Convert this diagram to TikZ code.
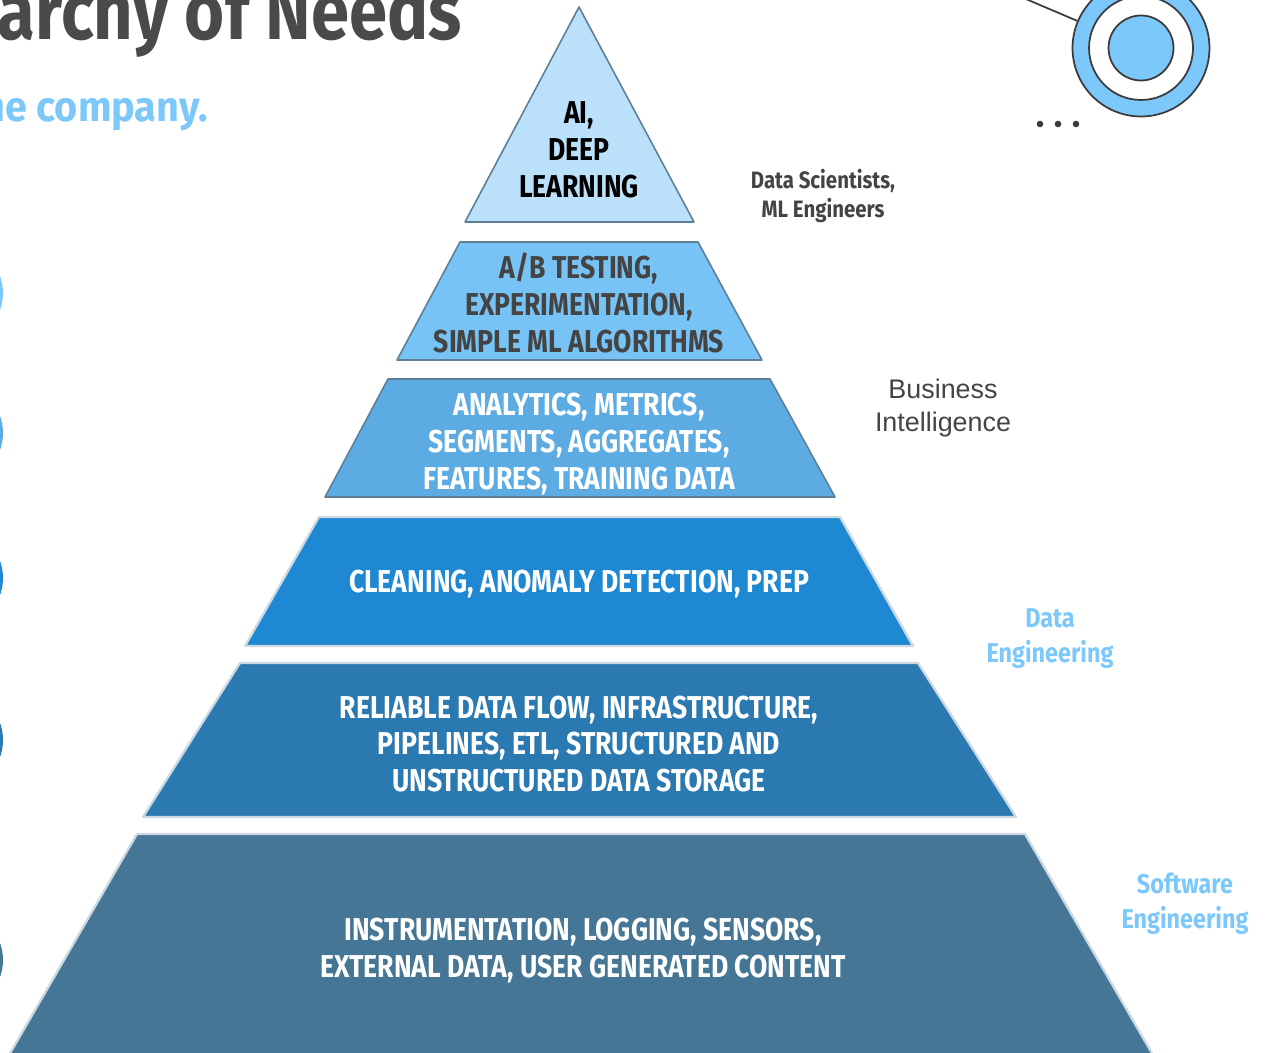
\documentclass[tikz,border=0pt]{standalone}
\usepackage{fontspec}
\setmainfont{Fira Sans}
\newfontfamily\condfont[FakeStretch=0.84]{Fira Sans}
\newfontfamily\rolefont[FakeStretch=0.86]{Fira Sans}
\newfontfamily\headfont[FakeStretch=0.85]{Fira Sans}
\newfontfamily\subfont[FakeStretch=0.94]{Fira Sans}
\newfontfamily\bifont{Liberation Sans}
\usetikzlibrary{positioning}

\definecolor{lvlone}{HTML}{BBE1FA}
\definecolor{lvltwo}{HTML}{78C3F6}
\definecolor{lvlthree}{HTML}{5CACE3}
\definecolor{lvlfour}{HTML}{1E88D3}
\definecolor{lvlfive}{HTML}{2A79B0}
\definecolor{lvlsix}{HTML}{467695}
\definecolor{edgedark}{HTML}{5E7F96}
\definecolor{edgelight}{HTML}{CCD9E2}
\definecolor{inkgray}{HTML}{444444}
\definecolor{titlegray}{HTML}{4A4A4A}
\definecolor{skyblue}{HTML}{7CC8FA}
\definecolor{ringline}{HTML}{3C3C3C}

\begin{document}
\begin{tikzpicture}[x=0.02cm,y=-0.02cm,
    layer/.style={draw=edgedark,line width=0.9pt,line join=round},
    lowlayer/.style={draw=edgelight,line width=1.3pt,line join=round},
    pyrtext/.style={align=center,inner sep=0pt,
        font=\condfont\bfseries\fontsize{18}{21}\selectfont},
    role/.style={align=center,inner sep=0pt,
        font=\rolefont\bfseries\fontsize{15.5}{20}\selectfont,text=skyblue},
    sidedot/.style={circle,fill=#1,minimum size=2cm,inner sep=0pt},
    ring/.style={circle,draw=ringline,line width=1pt,inner sep=0pt}]
    \clip (0,0) rectangle (1267,1053);

    % heading, cut off by the page edge
    \node[anchor=base east,inner sep=0pt,text=titlegray,
        font=\headfont\bfseries\fontsize{46}{46}\selectfont] (title) at (462,40) {Hierarchy of Needs};
    \node[anchor=base east,inner sep=0pt,text=skyblue,
        font=\subfont\bfseries\fontsize{24}{24}\selectfont] (subtitle) at (208,122) {the company.};

    % markers on the left edge
    \node[sidedot=skyblue] (dotb) at (-47,293) {};
    \node[sidedot=lvlthree] (dotc) at (-47,433) {};
    \node[sidedot=lvlfour] (dotd) at (-47,578) {};
    \node[sidedot=lvlfive] (dote) at (-47,740) {};
    \node[sidedot=lvlsix] (dotf) at (-47,960) {};

    % pyramid
    \filldraw[layer,fill=lvlone] (579,7) -- (694,222) -- (465,222) -- cycle;
    \filldraw[layer,fill=lvltwo] (460,242) -- (698,242) -- (762,360) -- (397,360) -- cycle;
    \filldraw[layer,fill=lvlthree] (388,379) -- (770,379) -- (835,497) -- (325,497) -- cycle;
    \filldraw[lowlayer,fill=lvlfour] (319,517) -- (840,517) -- (913,646) -- (245,646) -- cycle;
    \filldraw[lowlayer,fill=lvlfive] (240,663) -- (918,663) -- (1016,817) -- (143,817) -- cycle;
    \filldraw[lowlayer,fill=lvlsix] (137,834) -- (1025,834) -- (1157,1062) -- (5,1062) -- cycle;

    \node[pyrtext,text=black] (ai) at (579,150) {AI,\\DEEP\\LEARNING};
    \node[pyrtext,text=inkgray] (ab) at (579,303) {A/B TESTING,\\EXPERIMENTATION,\\SIMPLE ML ALGORITHMS};
    \node[pyrtext,text=white] (bi) at (579,444) {ANALYTICS, METRICS,\\SEGMENTS, AGGREGATES,\\FEATURES, TRAINING DATA};
    \node[pyrtext,text=white] (clean) at (579,584) {CLEANING, ANOMALY DETECTION, PREP};
    \node[pyrtext,text=white] (flow) at (579,744) {RELIABLE DATA FLOW, INFRASTRUCTURE,\\PIPELINES, ETL, STRUCTURED AND\\UNSTRUCTURED DATA STORAGE};
    \node[pyrtext,text=white] (instr) at (583,951) {INSTRUMENTATION, LOGGING, SENSORS,\\EXTERNAL DATA, USER GENERATED CONTENT};

    % who works on each level
    \node[align=center,inner sep=0pt,text=inkgray,
        font=\rolefont\bfseries\fontsize{13.5}{16.5}\selectfont] (scient) at (823,196) {Data Scientists,\\ML Engineers};
    \node[align=center,inner sep=0pt,text=inkgray,
        font=\bifont\fontsize{15.3}{19}\selectfont] (busint) at (943,408) {Business\\Intelligence};
    \node[role] (dataeng) at (1050,639) {Data\\Engineering};
    \node[role] (softeng) at (1185,904) {Software\\Engineering};

    % target in the corner
    \coordinate (pin) at (1000,-12);
    \node[ring,fill=skyblue,minimum size=2.74cm] (target) at (1141,48) {};
    \node[ring,fill=white,minimum size=2.08cm] (targetmid) at (target) {};
    \node[ring,fill=skyblue,minimum size=1.3cm] (targetin) at (target) {};
    \draw[ringline,line width=1pt] (pin) -- (target);
    \foreach \dx in {1040,1058,1076}
        \fill[ringline] (\dx,124) circle[radius=3.3];
\end{tikzpicture}
\end{document}
